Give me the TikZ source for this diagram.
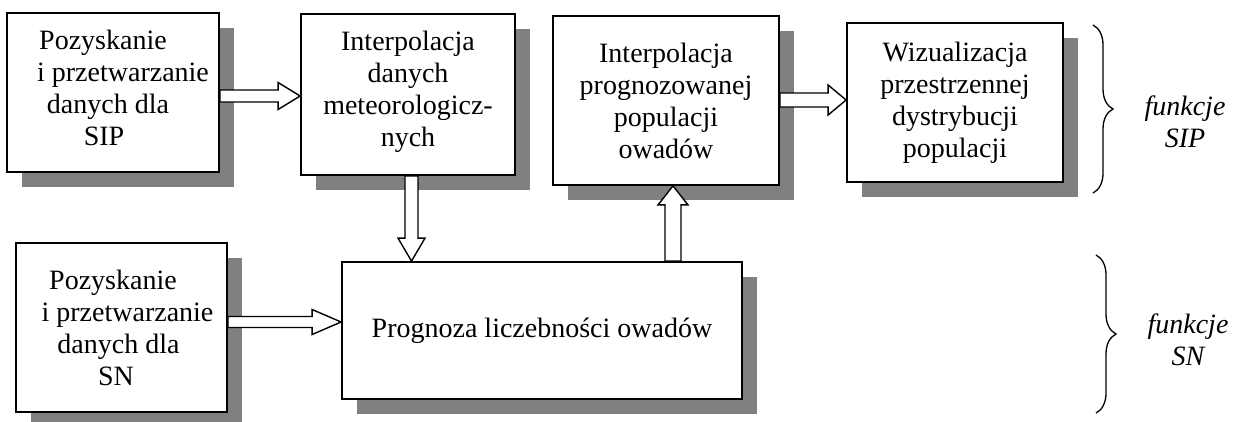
\documentclass[tikz,border=0pt]{standalone}
\usepackage{fontspec}
\setmainfont{Liberation Serif}
\usetikzlibrary{calc,shadows,decorations.pathreplacing}
\definecolor{shadowgray}{RGB}{128,128,128}
\begin{document}
\begin{tikzpicture}[x=1pt,y=-1pt,
  box/.style={draw=black, line width=1.8pt, fill=white, rectangle, inner sep=0pt, align=center,
    font=\fontsize{28}{32}\selectfont,
    drop shadow={shadow xshift=15pt, shadow yshift=-15pt, fill=shadowgray, opacity=1}},
  blockarrow/.style={draw=black, fill=white, line width=1.4pt, line join=miter},
  bracestyle/.style={decorate, decoration={brace, amplitude=20pt}, line width=1.3pt},
  funlabel/.style={align=center, font=\fontsize{28}{32}\selectfont\itshape, inner sep=0pt}]
\useasboundingbox[fill=white] (0,0) rectangle (1236,421);

% boxes
\node[box, minimum width=212pt, minimum height=159pt] (b1) at (113,92.5)
  {Pozyskanie\kern20pt\\\kern20pt i przetwarzanie\\danych dla\kern10pt\\SIP\kern18pt\rule[-10pt]{0pt}{10pt}};
\node[box, minimum width=214pt, minimum height=161pt] (b2) at (408,94.5)
  {Interpolacja\\danych\\meteorologicz-\\nych\rule[-12pt]{0pt}{12pt}};
\node[box, minimum width=226pt, minimum height=169pt] (b3) at (666,100.5)
  {Interpolacja\\prognozowanej\\populacji\\owadów};
\node[box, minimum width=216pt, minimum height=159pt] (b4) at (955,102.5)
  {Wizualizacja\\przestrzennej\\dystrybucji\\populacji};
\node[box, minimum width=211pt, minimum height=169pt] (b5) at (121.5,327.5)
  {Pozyskanie\kern17pt\\\kern12pt i przetwarzanie\\danych dla\kern6pt\\SN\kern11pt};
\node[box, minimum width=400pt, minimum height=137pt] (b6) at (542,330.5)
  {Prognoza liczebności owadów};

% helper coordinates for arrow axes
\coordinate (h1) at (0,96);
\coordinate (h4) at (0,100);
\coordinate (h5) at (0,322);
\coordinate (v2) at (411.5,0);
\coordinate (v3) at (673,0);

% b1 -> b2
\draw[blockarrow] let \p1=(b1.east |- h1), \p2=(b2.west |- h1) in
  (\x1,\y1+6pt) -- (\x2-22pt,\y1+6pt) -- (\x2-22pt,\y1+13.5pt) -- (\x2,\y1)
  -- (\x2-22pt,\y1-13.5pt) -- (\x2-22pt,\y1-6pt) -- (\x1,\y1-6pt) -- cycle;
% b3 -> b4
\draw[blockarrow] let \p1=(b3.east |- h4), \p2=(b4.west |- h4) in
  (\x1,\y1+7pt) -- (\x2-18pt,\y1+7pt) -- (\x2-18pt,\y1+15pt) -- (\x2,\y1)
  -- (\x2-18pt,\y1-15pt) -- (\x2-18pt,\y1-7pt) -- (\x1,\y1-7pt) -- cycle;
% b5 -> b6
\draw[blockarrow] let \p1=(b5.east |- h5), \p2=(b6.west |- h5) in
  (\x1,\y1+5.5pt) -- (\x2-29pt,\y1+5.5pt) -- (\x2-29pt,\y1+12.5pt) -- (\x2,\y1)
  -- (\x2-29pt,\y1-12.5pt) -- (\x2-29pt,\y1-5.5pt) -- (\x1,\y1-5.5pt) -- cycle;
% b2 -> b6 (down)
\draw[blockarrow] let \p1=(b2.south -| v2), \p2=(b6.north -| v2) in
  (\x1-6.5pt,\y1) -- (\x1-6.5pt,\y2+23pt) -- (\x1-13.5pt,\y2+23pt) -- (\x2,\y2)
  -- (\x1+13.5pt,\y2+23pt) -- (\x1+6.5pt,\y2+23pt) -- (\x1+6.5pt,\y1) -- cycle;
% b6 -> b3 (up)
\draw[blockarrow] let \p1=(b6.north -| v3), \p2=(b3.south -| v3) in
  (\x1-8pt,\y1) -- (\x1-8pt,\y2-19pt) -- (\x1-15pt,\y2-19pt) -- (\x2,\y2)
  -- (\x1+15pt,\y2-19pt) -- (\x1+8pt,\y2-19pt) -- (\x1+8pt,\y1) -- cycle;

% braces
\draw[bracestyle] (1093,25) -- (1093,193);
\draw[bracestyle] (1096,255) -- (1096,413);

% labels
\node[funlabel] (f1) at (1185,121.5) {funkcje\\SIP};
\node[funlabel] (f2) at (1188,339.5) {funkcje\\SN};
\end{tikzpicture}
\end{document}
